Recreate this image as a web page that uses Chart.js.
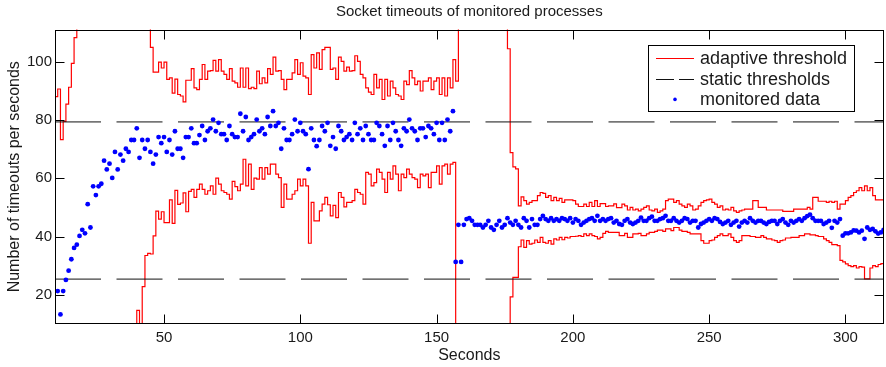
<!DOCTYPE html>
<html>
<head>
<meta charset="utf-8">
<title>Socket timeouts</title>
<script src="https://cdn.jsdelivr.net/npm/chart.js@4.4.0/dist/chart.umd.min.js"></script>
<style>
    html, body { margin: 0; padding: 0; background: #fff; }
    canvas { display: block; }
</style>
</head>
<body>
<canvas id="timeoutChart" width="886" height="367"></canvas>
<script>
// adaptive threshold, upper band (one value per second, first one at t = 10)
// values above the axis (off the top) are estimated at 140
var upperStart = 10;
var upperThreshold = [
    88, 90.6, 73.2, 79.5, 85.4, 91.2, 99.4, 108.2, 140, 140,
    140, 140, 140, 140, 140, 140, 140, 140, 140, 140,
    140, 140, 140, 140, 140, 140, 140, 140, 140, 140,
    140, 140, 140, 140, 140, 104.9, 96.4, 96.4, 99.8, 97.8,
    99.8, 93.9, 94.4, 89.2, 94, 88.7, 88.2, 86.2, 93.6, 93.6,
    97.6, 91, 90.4, 93.9, 99, 93.9, 96.7, 96.9, 100.4, 96.7,
    100.7, 96.7, 95.6, 93.9, 97.6, 93.3, 92.7, 91.2, 97.8, 91.2,
    97.8, 90.7, 91.2, 90.7, 96.7, 92.4, 94.4, 92.7, 97.6, 95.6,
    101.5, 96.7, 96.9, 93.9, 90.4, 93.9, 93.9, 96.1, 100.7, 95.6,
    99.6, 95, 94.4, 88.7, 102.4, 97.8, 103, 97.3, 104.1, 104.9,
    104.9, 97.3, 97.8, 93.9, 101.5, 100.1, 96.7, 98.1, 96.7, 96.9,
    102, 100.1, 95.6, 94.4, 91, 89.5, 88.7, 95.6, 91, 93.9,
    87, 93.9, 88.2, 93.3, 91, 88.7, 88.2, 87, 93.3, 92.1,
    96.9, 94.4, 92.1, 93.3, 89.9, 93.3, 93.3, 94.4, 90.4, 93.3,
    94.4, 88.7, 94.4, 88.2, 94.4, 91, 100.7, 93.3, 140, 140,
    140, 140, 140, 140, 140, 140, 140, 140, 140, 140,
    140, 140, 140, 140, 140, 140, 104.4, 68.8, 63.9, 63.2,
    50.5, 53.6, 52.3, 51.1, 51.7, 52.3, 52.3, 54, 55.1, 54.8,
    53.4, 54, 52.3, 53.4, 52.3, 53.1, 51.7, 52.6, 52.6, 52.6,
    52.3, 51.1, 50.3, 50.3, 51.1, 50.3, 51.7, 50.3, 52.3, 50.3,
    51.3, 51.3, 50.3, 50.5, 50.5, 51.2, 49.9, 49.9, 51.1, 50.5,
    49.1, 50, 49.1, 49.4, 48.8, 49.4, 50, 50.5, 49.1, 48.8,
    49.4, 48.3, 48.8, 49.4, 52.3, 52.8, 52.8, 51.7, 52.3, 51.1,
    50.5, 50, 51.1, 50.5, 49.1, 49.4, 50.5, 51.7, 52.3, 52.6,
    52.8, 51.7, 51.1, 50, 50.5, 49.1, 49.4, 49.1, 50, 48.8,
    48.3, 48.8, 49.1, 49.4, 49.4, 49.4, 52.3, 52.3, 50, 50,
    50, 49.1, 49.1, 49.1, 49.1, 49.1, 49.1, 48.6, 48.6, 48.6,
    48.6, 49.4, 49.4, 49.4, 49.4, 49.4, 50, 49.4, 53.4, 53.4,
    52.1, 52.1, 52.1, 51.7, 52.1, 51.7, 52.1, 49.4, 51.1, 51.1,
    52.3, 53.4, 54, 55.1, 55.7, 56.8, 55.7, 57.4, 55.7, 56.8,
    54, 52.6, 52.6, 52.6, 52.6
];

// adaptive threshold, lower band (values under the axis estimated at -20)
var lowerStart = 10;
var lowerThreshold = [
    -20, -20, -20, -20, -20, -20, -20, -20, -20, -20,
    -20, -20, -20, -20, -20, -20, -20, -20, -20, -20,
    -20, -20, -20, -20, -20, -20, -20, -20, -20, -20,
    14.7, -20, 22.8, 33.5, 34.2, 34, 40.2, 48.7, 46, 48.5,
    44.8, 44.8, 52.6, 44.5, 55.8, 51, 51.5, 55, 48.5, 55.5,
    56.2, 53.4, 56.2, 58, 56.2, 54.5, 55.7, 57.4, 54.5, 60,
    58, 55.7, 55.1, 54.5, 52.8, 58.9, 57.1, 55.7, 58, 66.5,
    57.4, 64.8, 56.2, 60, 59.7, 63.6, 59.7, 63.6, 61.4, 64.8,
    64.8, 61.4, 60.2, 50, 58, 52.8, 52.8, 54.5, 55.7, 59.7,
    57.4, 59.7, 57.4, 37.7, 51.7, 45.4, 45.4, 48.8, 51.1, 53.4,
    50.9, 47.1, 50.7, 46.5, 55.1, 53.4, 50.2, 51.7, 51.7, 52.3,
    56.2, 55.1, 54.5, 51.1, 62, 61.4, 57.4, 58.5, 63.1, 62,
    59.7, 55.1, 62, 59.7, 64.2, 61.4, 55.7, 61.4, 60.2, 63.1,
    61.4, 60.2, 59.7, 56.8, 61.4, 60.8, 61.4, 56.8, 62, 62,
    64.2, 58, 64.2, 64.8, 61.4, 64.8, 65.4, -20, -20, -20,
    -20, -20, -20, -20, -20, -20, -20, -20, -20, -20,
    -20, -20, -20, -20, -20, -20, -20, 19.3, 26, 26,
    36.5, 38.8, 36.3, 38.6, 37.4, 37.7, 38.8, 38, 39.7, 38,
    37.7, 38.6, 37.4, 39.2, 38.8, 39.7, 38.9, 39.7, 39.5, 40,
    40, 40.1, 40.3, 40, 40.9, 40.3, 40.9, 40.3, 40, 39.2,
    39.7, 41.1, 41.8, 41.4, 41.4, 41.4, 41.4, 40.3, 40.3, 41.1,
    39.7, 39.7, 40.9, 40.9, 41.1, 40.3, 40.3, 40.9, 41.4, 41.4,
    41.8, 42.2, 42.2, 41.8, 42.6, 42.6, 42, 43.1, 43.1, 42.2,
    41.8, 41.8, 41.4, 40.9, 40.9, 40.9, 40.9, 38.6, 37.7, 37.7,
    38.6, 38.8, 39.7, 40.3, 40.9, 40.3, 40.3, 40.9, 39.7, 38.6,
    38, 38.6, 40.3, 40.3, 40.3, 40, 40, 39.7, 39.7, 40.3,
    39.7, 39.2, 39.2, 38.8, 38.6, 38, 38.6, 38.8, 39.5, 39.5,
    39.7, 39.7, 39.7, 40.3, 40.3, 40.9, 40.9, 40.6, 40.6, 40.3,
    40, 40, 39.2, 38.6, 38, 37.2, 37.2, 36.9, 31.8, 31.3,
    30.6, 30, 29.7, 30, 29.2, 29.7, 29.5, 25.5, 25.5, 29.2,
    30, 29.7, 30.4, 30.7, 30.7
];

// monitored timeouts per second, first sample at t = 11
var monitoredStart = 11;
var monitoredData = [
    21.3, 13.3, 21.3, 25.1, 28.3, 32.2, 36.1, 37.2, 40.2, 42.3,
    41.1, 51.1, 43.1, 57.2, 54.2, 57.2, 58.1, 66, 63, 65,
    60.1, 69, 63, 68.1, 66, 70.1, 69, 73.1, 73.1, 77.1,
    67, 73.1, 70.1, 73.1, 69, 65, 68.1, 74.1, 72, 74.1,
    69, 73.1, 68.1, 76.1, 70.1, 70.1, 67, 74.1, 74.1, 77.1,
    72, 72, 74.8, 77.9, 73.1, 76.1, 77.1, 80.1, 76.1, 79,
    75.1, 75.1, 73.1, 77.9, 75.1, 74.1, 74.1, 82.1, 76.1, 81,
    73.1, 74.1, 75.1, 80.1, 76.1, 77.1, 75.1, 81, 77.9, 83,
    77.9, 79, 70.1, 77.1, 73.1, 73.1, 75.1, 80.1, 76.1, 79,
    76.1, 75.1, 63.1, 77.1, 73.1, 71, 73.1, 77.9, 76.1, 79,
    71.1, 74.1, 70.1, 77.9, 76.1, 73.1, 74.1, 75.1, 73.1, 79,
    75.1, 77.1, 73.1, 77.9, 75.1, 73.1, 73.1, 79, 77.9, 75.1,
    71.1, 77.9, 73.1, 79, 76.1, 73.1, 71.1, 77.1, 76.1, 80.1,
    77.1, 76.1, 73.1, 77.1, 77.1, 74.1, 77.9, 77.1, 75.1, 79,
    73.1, 79, 73.1, 80.1, 76.1, 83, 31.3, 44, 31.3, 44,
    46, 46.3, 45.4, 44, 44, 44, 43.1, 44, 45.4, 43.1,
    42.3, 44, 45.4, 43.1, 44, 46.3, 44.8, 44, 45.4, 44,
    43.1, 46.3, 45.4, 43.1, 46, 44, 44, 46, 47.1, 46,
    45.4, 46.3, 45.4, 46, 45.4, 46.3, 46, 45.4, 46.3, 44.8,
    46, 45.4, 44, 44.8, 45.4, 46, 46.3, 45.4, 47.1, 45.4,
    46, 45.4, 46, 46.3, 44.8, 45.4, 44.3, 44, 45.4, 46,
    44.8, 44.3, 44.8, 45.4, 46.5, 45.4, 45.4, 46.3, 46.8, 45.4,
    45.4, 46, 46.3, 47.1, 45.4, 45.4, 46.3, 45.4, 44.8, 45.4,
    46.3, 46, 44.8, 45.4, 45.4, 43.1, 44.3, 44.8, 45.4, 46,
    45.4, 46.3, 46, 45, 44.3, 44.8, 45.4, 44, 44.8, 45.4,
    43.4, 44.8, 45.4, 44.8, 46.3, 45.4, 44.8, 45.4, 45.4, 44.8,
    44.3, 45, 45.4, 45.4, 44.3, 45.4, 46, 44.8, 44, 45.4,
    44.8, 45.4, 46, 45.4, 46.3, 47, 47.5, 46.3, 45.4, 45.4,
    45.4, 44.3, 44.8, 45.4, 43, 45.4, 44.8, 46, 40.3, 41.1,
    41.1, 41.4, 42.1, 42, 41.4, 42, 39.2, 43.1, 42.3, 42.6,
    41.8, 41, 41.4, 42.3
];

var staticLevels = [79.3, 25.4];
var xRange = [10, 314];
var yRange = [10, 111];
var xTickValues = [50, 100, 150, 200, 250, 300];
var yTickValues = [20, 40, 60, 80, 100];

var chartTitle = 'Socket timeouts of monitored processes';
var xTitle = 'Seconds';
var yTitle = 'Number of timeouts per seconds';

var fontFamily = '"Liberation Sans", Arial, Helvetica, sans-serif';
var textColor = '#1a1a1a';

function toPoints(start, values) {
    return values.map(function (v, i) {
        return { x: start + i, y: v };
    });
}

function flatLine(level) {
    return [{ x: xRange[0], y: level }, { x: xRange[1], y: level }];
}

// box around the axes, inward ticks on all four sides, title and boxed legend
var framePlugin = {
    id: 'frame',
    afterDraw: function (chart) {
        var ctx = chart.ctx;
        var area = chart.chartArea;
        var xs = chart.scales.x;
        var ys = chart.scales.y;
        var l = Math.round(area.left) + 0.5;
        var r = Math.round(area.right) - 0.5;
        var t = Math.round(area.top) + 0.5;
        var b = Math.round(area.bottom) - 0.5;

        ctx.save();
        ctx.strokeStyle = '#000';
        ctx.lineWidth = 1;
        ctx.setLineDash([]);
        ctx.strokeRect(l, t, r - l, b - t);

        ctx.beginPath();
        xTickValues.forEach(function (v) {
            var px = Math.round(xs.getPixelForValue(v)) + 0.5;
            ctx.moveTo(px, b); ctx.lineTo(px, b - 9);
            ctx.moveTo(px, t); ctx.lineTo(px, t + 9);
        });
        yTickValues.forEach(function (v) {
            var py = Math.round(ys.getPixelForValue(v)) + 0.5;
            ctx.moveTo(l, py); ctx.lineTo(l + 9, py);
            ctx.moveTo(r, py); ctx.lineTo(r - 9, py);
        });
        ctx.stroke();

        // title centred over the axes
        ctx.fillStyle = textColor;
        ctx.font = '15px ' + fontFamily;
        ctx.textAlign = 'center';
        ctx.textBaseline = 'middle';
        ctx.fillText(chartTitle, (area.left + area.right) / 2, 12);

        // legend
        var items = chart.data.datasets.filter(function (d) { return d.legendStyle; });
        ctx.font = '18px ' + fontFamily;
        var textW = 0;
        items.forEach(function (d) {
            textW = Math.max(textW, ctx.measureText(d.label).width);
        });
        var boxW = 8 + 38 + 6 + textW + 7;
        var boxR = Math.round(area.right - 30);
        var boxL = Math.round(boxR - boxW);
        var boxT = Math.round(area.top + 15);
        var boxH = 66;
        ctx.fillStyle = '#fff';
        ctx.fillRect(boxL, boxT, boxR - boxL, boxH);
        ctx.strokeStyle = '#000';
        ctx.strokeRect(boxL + 0.5, boxT + 0.5, boxR - boxL, boxH);

        items.forEach(function (d, i) {
            var cy = boxT + 13 + i * 20.7;
            var x0 = boxL + 8;
            var x1 = x0 + 38;
            ctx.save();
            if (d.legendStyle === 'dot') {
                ctx.fillStyle = d.backgroundColor;
                ctx.beginPath();
                ctx.arc((x0 + x1) / 2, cy, 1.8, 0, Math.PI * 2);
                ctx.fill();
            } else {
                ctx.strokeStyle = d.borderColor;
                ctx.lineWidth = 1;
                ctx.setLineDash(d.legendStyle === 'dash' ? [18, 5] : []);
                ctx.beginPath();
                ctx.moveTo(x0, Math.round(cy) + 0.5);
                ctx.lineTo(x1, Math.round(cy) + 0.5);
                ctx.stroke();
            }
            ctx.restore();
            ctx.fillStyle = textColor;
            ctx.textAlign = 'left';
            ctx.textBaseline = 'middle';
            ctx.fillText(d.label, x1 + 6, cy + 1);
        });
        ctx.restore();
    }
};

var chart = new Chart(document.getElementById('timeoutChart').getContext('2d'), {
    type: 'line',
    data: {
        datasets: [
            {
                label: 'adaptive threshold',
                legendStyle: 'line',
                data: toPoints(upperStart, upperThreshold),
                borderColor: '#ff0000',
                borderWidth: 1.2,
                stepped: true,
                pointRadius: 0,
                order: 2
            },
            {
                label: 'adaptive threshold (lower)',
                data: toPoints(lowerStart, lowerThreshold),
                borderColor: '#ff0000',
                borderWidth: 1.2,
                stepped: true,
                pointRadius: 0,
                order: 2
            },
            {
                label: 'static thresholds',
                legendStyle: 'dash',
                data: flatLine(staticLevels[0]),
                borderColor: '#111',
                borderWidth: 1,
                borderDash: [46, 15.5],
                pointRadius: 0,
                order: 1
            },
            {
                label: 'static thresholds (lower)',
                data: flatLine(staticLevels[1]),
                borderColor: '#111',
                borderWidth: 1,
                borderDash: [46, 15.5],
                pointRadius: 0,
                order: 1
            },
            {
                label: 'monitored data',
                legendStyle: 'dot',
                data: toPoints(monitoredStart, monitoredData),
                showLine: false,
                backgroundColor: '#0000ff',
                borderColor: '#0000ff',
                pointRadius: 2.4,
                pointBorderWidth: 0,
                pointHoverRadius: 0,
                order: 0
            }
        ]
    },
    options: {
        responsive: false,
        animation: false,
        devicePixelRatio: 1,
        events: [],
        layout: { padding: { top: 29.5, right: 1, left: 0, bottom: 0 } },
        plugins: {
            legend: { display: false },
            tooltip: { enabled: false },
            title: { display: false }
        },
        scales: {
            x: {
                type: 'linear',
                min: xRange[0],
                max: xRange[1],
                grid: { display: false, drawTicks: false },
                border: { display: false },
                afterBuildTicks: function (axis) {
                    axis.ticks = xTickValues.map(function (v) { return { value: v }; });
                },
                afterFit: function (axis) { axis.height = 43; },
                ticks: {
                    padding: 5,
                    maxRotation: 0,
                    autoSkip: false,
                    color: textColor,
                    font: { family: fontFamily, size: 15 }
                },
                title: {
                    display: true,
                    text: xTitle,
                    color: textColor,
                    font: { family: fontFamily, size: 16 },
                    padding: { top: 0, bottom: 2 }
                }
            },
            y: {
                min: yRange[0],
                max: yRange[1],
                grid: { display: false, drawTicks: false },
                border: { display: false },
                afterBuildTicks: function (axis) {
                    axis.ticks = yTickValues.map(function (v) { return { value: v }; });
                },
                afterFit: function (axis) { axis.width = 55; },
                ticks: {
                    padding: 3,
                    autoSkip: false,
                    color: textColor,
                    font: { family: fontFamily, size: 15 }
                },
                title: {
                    display: true,
                    text: yTitle,
                    color: textColor,
                    font: { family: fontFamily, size: 16 },
                    padding: { top: 5, bottom: 0 }
                }
            }
        }
    },
    plugins: [framePlugin]
});
</script>
</body>
</html>
